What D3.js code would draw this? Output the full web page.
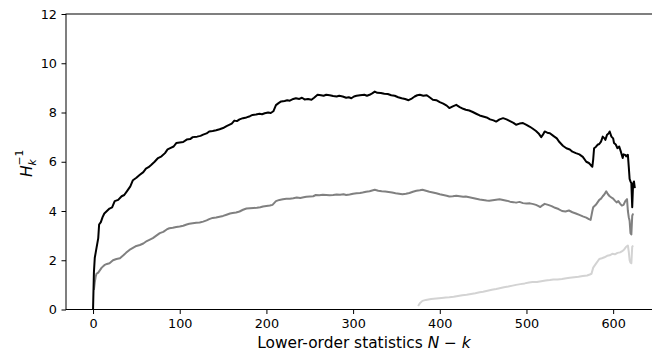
<!DOCTYPE html>
<html>
<head>
<meta charset="utf-8">
<script src="https://cdn.jsdelivr.net/npm/d3@7"></script>
<style>
  body { margin: 0; background: #fff; }
  svg { display: block; font-family: "DejaVu Sans", sans-serif; }
  .tick text { font-family: "DejaVu Sans", sans-serif; font-size: 12.8px; fill: #000; }
  .domain { display: none; }
  .line { fill: none; stroke-width: 2; stroke-linejoin: round; }
</style>
</head>
<body>
<svg id="chart" width="652" height="354"></svg>
<script>
// values: [N - k, H_k^-1]
var blackSeries = [[0,0],[1,1.5],[2,2.1],[3,2.3],[4,2.5],[6,2.9],[7,3.45],[9,3.55],[11,3.75],[13,3.9],[16,4.0],[19,4.1],[22,4.15],[25,4.4],[29,4.45],[33,4.6],[36,4.65],[39,4.8],[43,5.0],[46,5.25],[50,5.35],[54,5.47],[58,5.58],[61,5.72],[64,5.78],[67,5.87],[71,6.0],[75,6.15],[79,6.22],[83,6.35],[86,6.5],[89,6.55],[93,6.62],[96,6.76],[100,6.78],[104,6.8],[108,6.9],[112,6.92],[115,7.0],[120,7.02],[124,7.05],[127,7.1],[131,7.15],[134,7.23],[138,7.25],[142,7.28],[146,7.32],[150,7.37],[154,7.45],[157,7.5],[160,7.55],[163,7.67],[166,7.65],[169,7.72],[173,7.77],[177,7.8],[181,7.85],[184,7.9],[188,7.92],[192,7.95],[195,7.93],[198,7.97],[202,8.0],[205,7.98],[208,8.05],[211,8.3],[214,8.38],[217,8.45],[221,8.47],[224,8.5],[227,8.48],[231,8.55],[234,8.58],[238,8.55],[241,8.6],[244,8.53],[248,8.55],[252,8.52],[255,8.6],[259,8.72],[263,8.7],[266,8.68],[269,8.72],[273,8.7],[277,8.67],[281,8.65],[284,8.68],[288,8.65],[292,8.6],[295,8.62],[298,8.58],[301,8.65],[304,8.68],[308,8.7],[313,8.72],[316,8.68],[319,8.72],[322,8.78],[325,8.85],[328,8.8],[332,8.79],[336,8.76],[340,8.75],[344,8.7],[348,8.68],[352,8.62],[356,8.58],[360,8.55],[364,8.5],[367,8.55],[371,8.65],[374,8.7],[377,8.72],[381,8.68],[385,8.7],[389,8.6],[392,8.52],[396,8.5],[400,8.42],[404,8.36],[408,8.28],[411,8.18],[415,8.25],[419,8.31],[423,8.22],[427,8.15],[430,8.11],[434,8.08],[438,8.02],[442,7.95],[446,7.88],[450,7.84],[454,7.8],[458,7.72],[462,7.68],[465,7.63],[469,7.72],[473,7.77],[477,7.72],[481,7.65],[485,7.58],[488,7.5],[492,7.55],[496,7.57],[500,7.5],[504,7.42],[507,7.35],[511,7.25],[514,7.15],[517,7.0],[519,7.1],[521,7.23],[524,7.18],[527,7.16],[531,7.05],[535,6.95],[538,6.8],[542,6.65],[546,6.55],[550,6.5],[553,6.41],[557,6.35],[561,6.3],[565,6.2],[569,6.0],[572,5.95],[574,5.87],[576,5.8],[577,6.1],[578,6.55],[580,6.6],[582,6.69],[584,6.72],[586,6.82],[588,7.02],[590,6.95],[591,6.89],[593,7.1],[595,7.16],[596,7.23],[598,7.02],[600,6.95],[601,6.76],[603,6.7],[605,6.55],[607,6.62],[609,6.4],[611,6.15],[612,6.3],[614,6.28],[615,6.22],[617,6.28],[618,5.8],[619,5.3],[620,5.2],[621,5.13],[622,4.15],[623,5.1],[624,5.2],[625,4.93]];

var graySeries = [[1,0.8],[2,1.1],[3,1.33],[4,1.45],[6,1.5],[8,1.6],[10,1.7],[13,1.8],[16,1.85],[19,1.88],[23,2.0],[27,2.05],[31,2.08],[35,2.2],[38,2.3],[42,2.42],[46,2.5],[50,2.58],[54,2.62],[58,2.68],[62,2.78],[65,2.83],[69,2.9],[73,3.0],[77,3.1],[81,3.15],[85,3.25],[88,3.3],[92,3.32],[96,3.35],[100,3.37],[104,3.4],[108,3.45],[111,3.48],[115,3.5],[119,3.52],[123,3.53],[127,3.57],[131,3.62],[134,3.67],[138,3.72],[142,3.74],[146,3.77],[150,3.8],[154,3.85],[158,3.9],[161,3.92],[165,3.94],[169,3.98],[173,4.05],[177,4.1],[181,4.11],[185,4.12],[189,4.13],[193,4.15],[196,4.18],[200,4.2],[204,4.22],[207,4.25],[211,4.4],[215,4.45],[219,4.48],[223,4.5],[227,4.5],[231,4.52],[235,4.55],[239,4.53],[243,4.56],[246,4.58],[250,4.59],[254,4.6],[257,4.65],[261,4.64],[265,4.66],[269,4.65],[273,4.64],[277,4.65],[281,4.67],[285,4.66],[289,4.68],[292,4.65],[296,4.67],[300,4.7],[304,4.72],[308,4.73],[311,4.75],[315,4.78],[319,4.8],[322,4.83],[325,4.86],[329,4.82],[333,4.8],[337,4.79],[341,4.77],[345,4.75],[349,4.72],[353,4.7],[357,4.68],[361,4.7],[365,4.73],[369,4.78],[373,4.82],[377,4.84],[380,4.86],[384,4.82],[388,4.78],[392,4.75],[396,4.72],[400,4.68],[404,4.65],[408,4.62],[411,4.59],[415,4.6],[419,4.62],[423,4.6],[427,4.58],[430,4.59],[434,4.56],[438,4.53],[442,4.5],[446,4.47],[450,4.45],[454,4.43],[457,4.42],[461,4.44],[465,4.46],[469,4.48],[473,4.45],[477,4.42],[481,4.38],[485,4.36],[488,4.34],[492,4.37],[496,4.32],[500,4.3],[504,4.31],[508,4.28],[511,4.25],[514,4.2],[516,4.16],[518,4.22],[521,4.29],[525,4.25],[529,4.2],[533,4.13],[537,4.08],[541,4.0],[545,3.98],[549,4.02],[553,3.95],[557,3.9],[561,3.84],[565,3.78],[569,3.73],[572,3.67],[574,3.64],[576,4.0],[577,4.15],[580,4.25],[584,4.45],[586,4.5],[588,4.6],[590,4.68],[592,4.8],[594,4.68],[596,4.6],[598,4.55],[600,4.5],[602,4.42],[604,4.35],[606,4.4],[608,4.3],[610,4.22],[612,4.25],[614,4.4],[616,4.48],[617,4.0],[618,3.75],[619,3.6],[620,3.1],[621,3.05],[622,3.8],[623,3.9]];

var lightSeries = [[375,0.14],[377,0.25],[380,0.35],[384,0.39],[390,0.43],[396,0.45],[402,0.47],[407,0.49],[411,0.5],[416,0.52],[421,0.55],[426,0.58],[431,0.6],[436,0.63],[441,0.66],[446,0.7],[450,0.72],[455,0.76],[460,0.8],[465,0.83],[469,0.86],[474,0.9],[479,0.93],[484,0.97],[488,1.0],[493,1.03],[498,1.06],[503,1.1],[507,1.12],[512,1.12],[517,1.15],[522,1.18],[527,1.2],[531,1.22],[536,1.22],[541,1.24],[546,1.27],[550,1.29],[555,1.31],[560,1.33],[565,1.36],[570,1.38],[573,1.42],[575,1.45],[577,1.7],[580,1.85],[584,2.05],[587,2.08],[590,2.12],[593,2.18],[596,2.2],[599,2.26],[602,2.24],[605,2.3],[608,2.32],[611,2.38],[613,2.45],[615,2.55],[617,2.6],[618,2.35],[619,2.0],[620,1.9],[621,1.88],[622,2.55],[623,2.6]];

var xTicks = [0, 100, 200, 300, 400, 500, 600];
var yTicks = [0, 2, 4, 6, 8, 10, 12];

var svg = d3.select("#chart");
var plotLeft = 66, plotRight = 661, plotTop = 14, plotBottom = 309.5;

var x = d3.scaleLinear().domain([-31.2, 655.2]).range([plotLeft, plotRight]);
var y = d3.scaleLinear().domain([0, 12]).range([plotBottom, plotTop]);

var line = d3.line()
    .x(function (d) { return x(d[0]); })
    .y(function (d) { return y(d[1]); });

var series = [
  {data: lightSeries, color: "#d3d3d3"},
  {data: graySeries, color: "#808080"},
  {data: blackSeries, color: "#000000"}
];
series.forEach(function (s) {
  svg.append("path").attr("class", "line")
     .attr("d", line(s.data))
     .attr("stroke", s.color);
});

// frame
svg.append("rect")
   .attr("x", plotLeft).attr("y", plotTop)
   .attr("width", plotRight - plotLeft).attr("height", plotBottom - plotTop)
   .attr("fill", "none").attr("stroke", "#000").attr("stroke-width", 1);

svg.append("g")
    .attr("transform", "translate(0," + plotBottom + ")")
    .call(d3.axisBottom(x).tickValues(xTicks).tickSize(4.5).tickPadding(4.5));
svg.append("g")
    .attr("transform", "translate(" + plotLeft + ",0)")
    .call(d3.axisLeft(y).tickValues(yTicks).tickSize(4.5).tickPadding(4.5));
svg.selectAll(".tick line").attr("stroke", "#000").attr("stroke-width", 1);

svg.append("text")
   .attr("x", 364).attr("y", 347.5)
   .attr("text-anchor", "middle")
   .attr("font-size", 15.4)
   .html('Lower-order statistics <tspan font-style="italic">N</tspan> − <tspan font-style="italic">k</tspan>');

var ylab = svg.append("g").attr("transform", "translate(27,165) rotate(-90)");
ylab.append("text").attr("x", -12).attr("y", 5)
    .attr("font-size", 15.4).attr("font-style", "italic").text("H");
ylab.append("text").attr("x", -0.5).attr("y", 8.5)
    .attr("font-size", 10.8).attr("font-style", "italic").text("k");
ylab.append("text").attr("x", -0.5).attr("y", -4)
    .attr("font-size", 10.8).text("−1");
</script>
</body>
</html>
